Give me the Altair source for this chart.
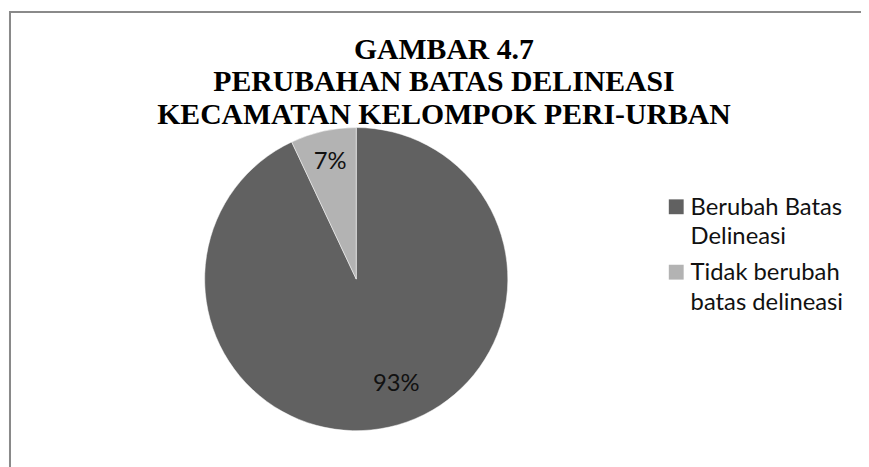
import altair as alt
import pandas as pd

# ---- data ----
categories = ["Berubah Batas Delineasi", "Tidak berubah batas delineasi"]
values = [93, 7]
pct_labels = ["93%", "7%"]
legend_lines = [["Berubah Batas", "Delineasi"], ["Tidak berubah", "batas delineasi"]]
title_lines = ["GAMBAR 4.7", "PERUBAHAN BATAS DELINEASI", "KECAMATAN KELOMPOK PERI-URBAN"]

df = pd.DataFrame({
    "category": categories,
    "value": values,
    "label": pct_labels,
    "order": list(range(len(categories))),
    "legend_text": ["\n".join(l) for l in legend_lines],
})

DARK = "#616161"
LIGHT = "#b3b3b3"
W, H = 703, 283  # pie centre = (W/2, H/2)
R = 153
SANS = "Lato"

color_scale = alt.Scale(domain=categories, range=[DARK, LIGHT])

base = alt.Chart(df)

pie = base.mark_arc(radius=R, stroke="#ffffff", strokeWidth=0.5).encode(
    theta=alt.Theta("value:Q", stack=True),
    color=alt.Color("category:N", scale=color_scale, legend=None),
    order=alt.Order("order:Q"),
)


def pct_text(radius, test, dx=0, dy=0):
    return base.transform_joinaggregate(total="sum(value)").transform_window(
        cum="sum(value)", sort=[alt.SortField("order")]
    ).transform_calculate(
        mid="(datum.cum - datum.value / 2) / datum.total * 2 * PI"
    ).transform_filter(test).mark_text(
        font=SANS, fontSize=24, color="#111111", dx=dx, dy=dy
    ).encode(
        theta=alt.Theta("mid:Q", scale=None),
        radius=alt.value(radius),
        text="label:N",
    )


labels_big = pct_text(112, "datum.value >= 50", dx=16, dy=-3)
labels_small = pct_text(121, "datum.value < 50")

# legend drawn with the same colour scale
ly = alt.Y("category:N", scale=alt.Scale(type="point", domain=categories,
                                          range=[68.5, 134.5], padding=0), axis=None)
leg_sq = base.mark_square(size=225, opacity=1, filled=True).encode(
    x=alt.value(674.5),
    y=ly,
    color=alt.Color("category:N", scale=color_scale, legend=None),
)
leg_tx = base.mark_text(
    font=SANS, fontSize=24, align="left", baseline="alphabetic",
    lineBreak="\n", lineHeight=30, dy=8, color="#111111",
).encode(
    x=alt.value(689),
    y=ly,
    text="legend_text:N",
)

# chart border (top and left edges visible in the reference)
border_top = base.mark_rule(color="#8a8a8a", strokeWidth=2).encode(
    x=alt.value(2), x2=alt.value(900), y=alt.value(-128)
)
border_left = base.mark_rule(color="#8a8a8a", strokeWidth=2).encode(
    x=alt.value(2), y=alt.value(-129), y2=alt.value(400)
)

chart = alt.layer(border_top, border_left, pie, labels_big, labels_small, leg_sq, leg_tx).properties(
    width=W,
    height=H,
    padding={"left": 0, "top": 130, "right": 158, "bottom": 46},
    autosize=alt.AutoSizeParams(type="none"),
    title=alt.TitleParams(
        text=title_lines,
        font="Liberation Serif",
        fontSize=30,
        fontWeight="bold",
        color="#000000",
        lineHeight=33,
        anchor="middle",
        frame="group",
        offset=8,
        dx=88.5,
        dy=129,
    ),
).configure(background="#ffffff").configure_view(stroke=None)

chart.save("out.html", embed_options={"renderer": "svg", "actions": False})
